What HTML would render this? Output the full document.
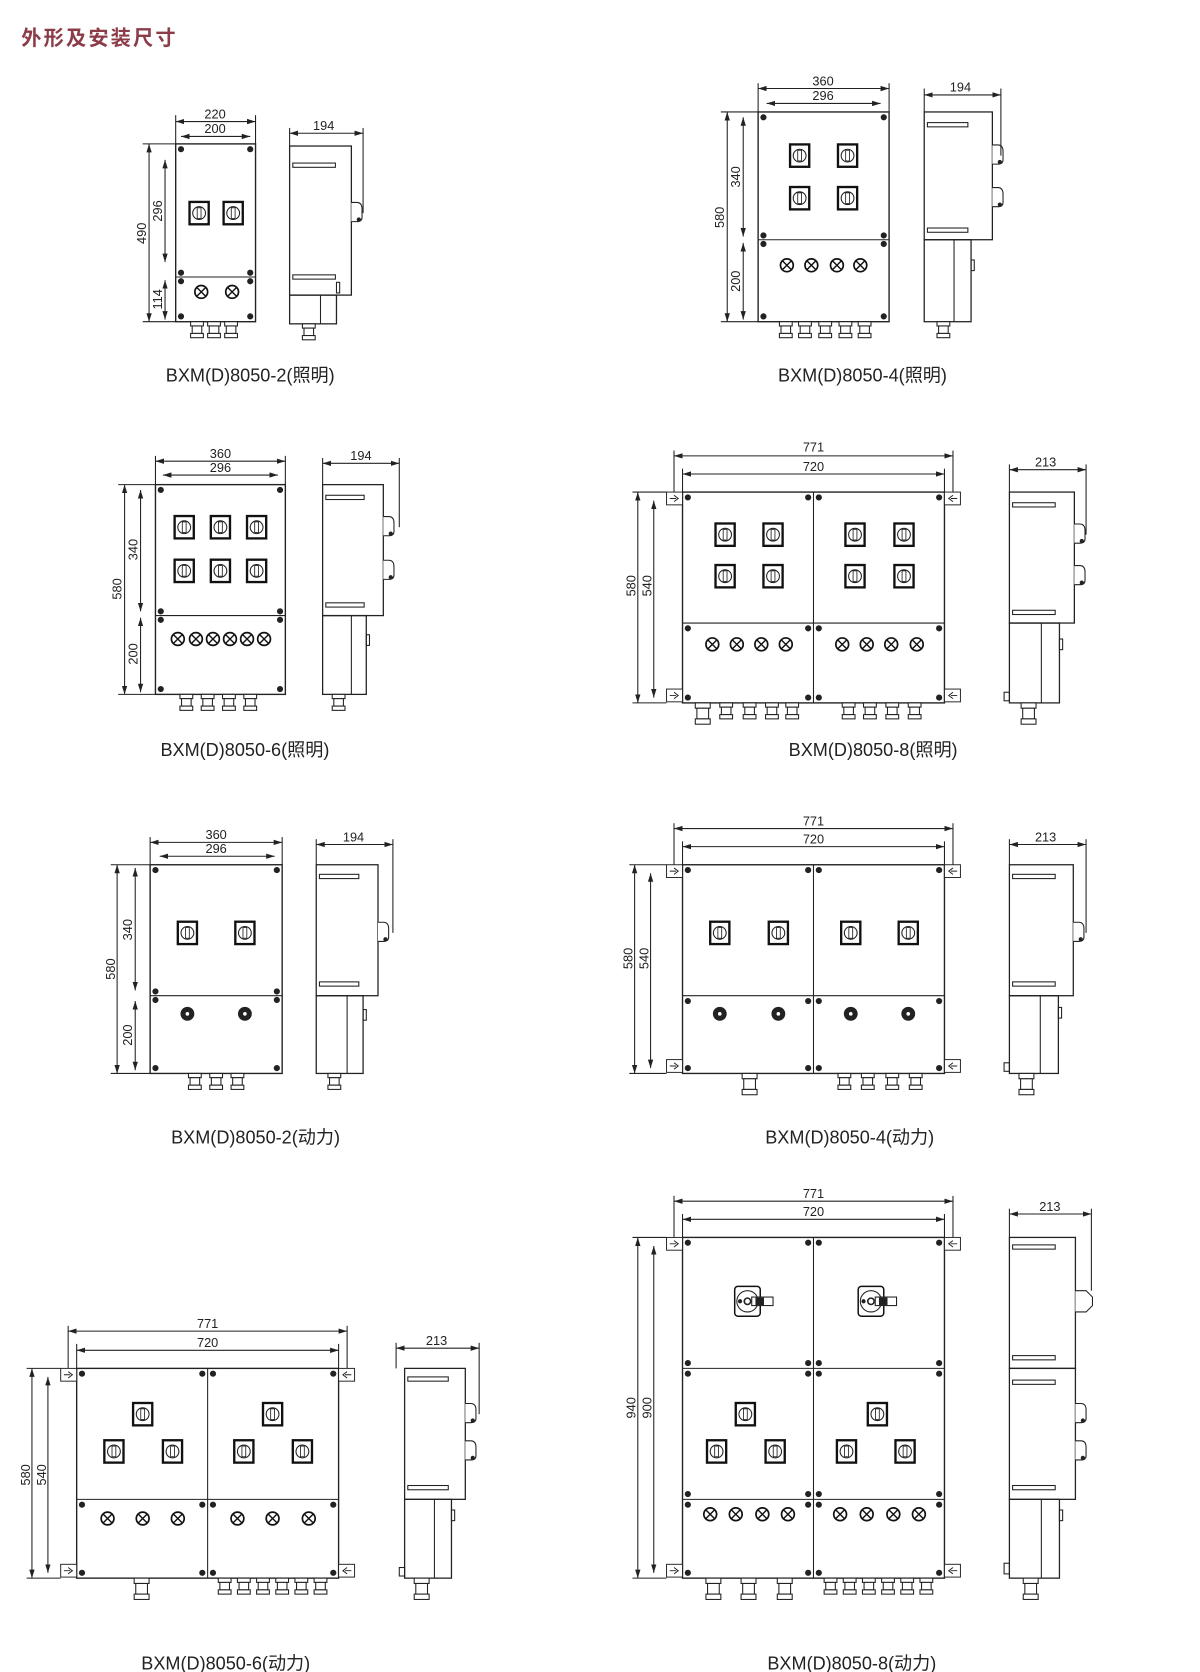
<!DOCTYPE html>
<html><head><meta charset="utf-8"><style>
html,body{margin:0;padding:0;background:#fff;}
svg{display:block;}
text{font-family:"Liberation Sans","Noto Sans CJK SC",sans-serif;fill:#222;}
</style></head><body>
<svg width="1200" height="1672" viewBox="0 0 1127 1570" xmlns="http://www.w3.org/2000/svg">
<defs>
<marker id="ar" markerWidth="8" markerHeight="6" refX="8" refY="3" orient="auto-start-reverse" markerUnits="userSpaceOnUse"><path d="M0,0.5 L8,3 L0,5.5 Z" fill="#222"/></marker>
<g id="sw"><rect x="-9" y="-10.5" width="18" height="21" fill="#fff" stroke="#111" stroke-width="2.2"/><circle r="6" fill="none" stroke="#222" stroke-width="1"/><rect x="-1.8" y="-5" width="3.6" height="10" fill="none" stroke="#222" stroke-width="0.8"/></g>
<g id="lp"><circle r="6" fill="#fff" stroke="#111" stroke-width="1.6"/><path d="M-4,-4 L4,4 M-4,4 L4,-4" stroke="#111" stroke-width="1.3"/></g>
<g id="pb"><circle r="6" fill="#222"/><circle r="2.2" fill="#fff"/></g>
<g id="gl"><rect x="-6" y="0" width="12" height="4" fill="#fff" stroke="#222" stroke-width="1"/><rect x="-4.5" y="4" width="9" height="7" fill="#fff" stroke="#222" stroke-width="1"/><rect x="-6" y="11" width="12" height="4" fill="#fff" stroke="#222" stroke-width="1"/></g>
<g id="glb"><rect x="-7" y="0" width="14" height="5" fill="#fff" stroke="#222" stroke-width="1"/><rect x="-5.5" y="5" width="11" height="10" fill="#fff" stroke="#222" stroke-width="1"/><rect x="-7" y="15" width="14" height="5" fill="#fff" stroke="#222" stroke-width="1"/></g>
<g id="bt"><circle r="2.4" fill="#222"/></g>
<g id="tabL"><rect x="0" y="-6" width="15" height="12" fill="#fff" stroke="#222" stroke-width="0.9"/><path d="M3,0 H9 M7,-3 L11,0 L7,3" stroke="#222" fill="none" stroke-width="0.9"/></g>
<g id="tabR"><rect x="0" y="-6" width="15" height="12" fill="#fff" stroke="#222" stroke-width="0.9"/><path d="M12,0 H6 M8,-3 L4,0 L8,3" stroke="#222" fill="none" stroke-width="0.9"/></g>
<g id="knob"><path d="M0,-10 H5 Q10,-10 10,-4 V4 Q10,8 5,8 H0" fill="#fff" stroke="#222" stroke-width="1"/><circle cx="7" cy="6" r="1.5" fill="#222"/></g>
<g id="rot"><rect x="-12" y="-14" width="24" height="28" rx="3" fill="#fff" stroke="#111" stroke-width="1.4"/><circle r="10" fill="none" stroke="#222"/><circle r="3" fill="none" stroke="#222" stroke-width="1.5"/><circle cx="-7" r="1.5" fill="#222"/><rect x="4" y="-4" width="20" height="8" fill="#fff" stroke="#222"/><rect x="8" y="-3" width="7" height="6" fill="#222"/></g>
</defs>
<g stroke="#222" fill="none" stroke-width="1">

<text x="20" y="42" font-size="19" font-weight="bold" stroke="none" style="fill:#8b3c48;letter-spacing:2px">外形及安装尺寸</text>

<!-- D1 -->
<rect x="165" y="135" width="75" height="167" stroke-width="1.3"/>
<line x1="165" y1="260" x2="240" y2="260"/>
<use href="#bt" x="170" y="140"/><use href="#bt" x="235" y="140"/><use href="#bt" x="170" y="256"/><use href="#bt" x="235" y="256"/><use href="#bt" x="170" y="264"/><use href="#bt" x="235" y="264"/><use href="#bt" x="170" y="297"/><use href="#bt" x="235" y="297"/>
<use href="#sw" x="187" y="200"/><use href="#sw" x="219" y="200"/>
<use href="#lp" x="189" y="274"/><use href="#lp" x="218" y="274"/>
<use href="#gl" x="185" y="302"/><use href="#gl" x="201" y="302"/><use href="#gl" x="217" y="302"/>
<line x1="165" y1="135" x2="165" y2="108"/><line x1="240" y1="135" x2="240" y2="108"/>
<line x1="165" y1="114" x2="240" y2="114" marker-start="url(#ar)" marker-end="url(#ar)"/>
<line x1="170" y1="128" x2="235" y2="128" marker-start="url(#ar)" marker-end="url(#ar)"/>
<line x1="165" y1="135" x2="134" y2="135"/><line x1="165" y1="302" x2="134" y2="302"/>
<line x1="140" y1="135" x2="140" y2="302" marker-start="url(#ar)" marker-end="url(#ar)"/>
<line x1="155" y1="150" x2="155" y2="246" marker-start="url(#ar)" marker-end="url(#ar)"/>
<line x1="155" y1="263" x2="155" y2="300" marker-start="url(#ar)" marker-end="url(#ar)"/>
<text x="202" y="111" font-size="12" text-anchor="middle" stroke="none">220</text>
<text x="202" y="125" font-size="12" text-anchor="middle" stroke="none">200</text>
<text transform="translate(137,219) rotate(-90)" font-size="12" text-anchor="middle" stroke="none">490</text>
<text transform="translate(152,198) rotate(-90)" font-size="12" text-anchor="middle" stroke="none">296</text>
<text transform="translate(152,281) rotate(-90)" font-size="12" text-anchor="middle" stroke="none">114</text>
<rect x="272" y="137" width="58" height="140" stroke-width="1.2"/>
<rect x="272" y="277" width="44" height="27" stroke-width="1.2"/>
<line x1="301" y1="277" x2="301" y2="304"/>
<rect x="275" y="153" width="40" height="4"/><rect x="275" y="258" width="40" height="4"/>
<use href="#knob" x="330" y="200"/>
<rect x="316" y="265" width="3" height="10"/>
<use href="#gl" x="290" y="304"/>
<line x1="272" y1="137" x2="272" y2="120"/><line x1="341" y1="200" x2="341" y2="120"/>
<line x1="272" y1="125" x2="341" y2="125" marker-start="url(#ar)" marker-end="url(#ar)"/>
<text x="304" y="122" font-size="12" text-anchor="middle" stroke="none">194</text>
<text x="235" y="358" font-size="17" text-anchor="middle" stroke="none">BXM(D)8050-2(照明)</text>

<!-- D2 -->
<rect x="712" y="105" width="123" height="197" stroke-width="1.3"/>
<line x1="712" y1="225" x2="835" y2="225"/>
<use href="#bt" x="717" y="110"/><use href="#bt" x="830" y="110"/><use href="#bt" x="717" y="221"/><use href="#bt" x="830" y="221"/><use href="#bt" x="717" y="229"/><use href="#bt" x="830" y="229"/><use href="#bt" x="717" y="297"/><use href="#bt" x="830" y="297"/>
<use href="#sw" x="751" y="146"/><use href="#sw" x="796" y="146"/><use href="#sw" x="751" y="186"/><use href="#sw" x="796" y="186"/>
<use href="#lp" x="739" y="249"/><use href="#lp" x="762" y="249"/><use href="#lp" x="786" y="249"/><use href="#lp" x="808" y="249"/>
<use href="#gl" x="738" y="302"/><use href="#gl" x="756" y="302"/><use href="#gl" x="775" y="302"/><use href="#gl" x="794" y="302"/><use href="#gl" x="812" y="302"/>
<line x1="712" y1="105" x2="712" y2="78"/><line x1="835" y1="105" x2="835" y2="78"/>
<line x1="712" y1="83" x2="835" y2="83" marker-start="url(#ar)" marker-end="url(#ar)"/>
<line x1="720" y1="97" x2="827" y2="97" marker-start="url(#ar)" marker-end="url(#ar)"/>
<line x1="712" y1="105" x2="677" y2="105"/><line x1="712" y1="302" x2="677" y2="302"/>
<line x1="683" y1="105" x2="683" y2="302" marker-start="url(#ar)" marker-end="url(#ar)"/>
<line x1="698" y1="110" x2="698" y2="222" marker-start="url(#ar)" marker-end="url(#ar)"/>
<line x1="698" y1="228" x2="698" y2="300" marker-start="url(#ar)" marker-end="url(#ar)"/>
<text x="773" y="80" font-size="12" text-anchor="middle" stroke="none">360</text>
<text x="773" y="94" font-size="12" text-anchor="middle" stroke="none">296</text>
<text transform="translate(680,204) rotate(-90)" font-size="12" text-anchor="middle" stroke="none">580</text>
<text transform="translate(695,166) rotate(-90)" font-size="12" text-anchor="middle" stroke="none">340</text>
<text transform="translate(695,264) rotate(-90)" font-size="12" text-anchor="middle" stroke="none">200</text>
<rect x="868" y="105" width="64" height="120" stroke-width="1.2"/>
<rect x="868" y="225" width="44" height="77" stroke-width="1.2"/>
<line x1="896" y1="225" x2="896" y2="302"/>
<rect x="871" y="115" width="38" height="4"/><rect x="871" y="214" width="38" height="4"/>
<use href="#knob" x="932" y="146"/><use href="#knob" x="932" y="186"/>
<rect x="912" y="244" width="3" height="10"/>
<use href="#gl" x="886" y="302"/>
<line x1="868" y1="105" x2="868" y2="83"/><line x1="940" y1="146" x2="940" y2="83"/>
<line x1="868" y1="89" x2="940" y2="89" marker-start="url(#ar)" marker-end="url(#ar)"/>
<text x="902" y="86" font-size="12" text-anchor="middle" stroke="none">194</text>
<text x="810" y="358" font-size="17" text-anchor="middle" stroke="none">BXM(D)8050-4(照明)</text>

<!-- D3 -->
<rect x="146" y="455" width="122" height="197" stroke-width="1.3"/>
<line x1="146" y1="578" x2="268" y2="578"/>
<use href="#bt" x="151" y="460"/><use href="#bt" x="263" y="460"/><use href="#bt" x="151" y="574"/><use href="#bt" x="263" y="574"/><use href="#bt" x="151" y="582"/><use href="#bt" x="263" y="582"/><use href="#bt" x="151" y="647"/><use href="#bt" x="263" y="647"/>
<use href="#sw" x="173" y="495"/><use href="#sw" x="207" y="495"/><use href="#sw" x="241" y="495"/>
<use href="#sw" x="173" y="536"/><use href="#sw" x="207" y="536"/><use href="#sw" x="241" y="536"/>
<use href="#lp" x="167" y="600"/><use href="#lp" x="184" y="600"/><use href="#lp" x="200" y="600"/><use href="#lp" x="216" y="600"/><use href="#lp" x="232" y="600"/><use href="#lp" x="248" y="600"/>
<use href="#gl" x="175" y="652"/><use href="#gl" x="195" y="652"/><use href="#gl" x="215" y="652"/><use href="#gl" x="235" y="652"/>
<line x1="146" y1="455" x2="146" y2="428"/><line x1="268" y1="455" x2="268" y2="428"/>
<line x1="146" y1="433" x2="268" y2="433" marker-start="url(#ar)" marker-end="url(#ar)"/>
<line x1="153" y1="446" x2="261" y2="446" marker-start="url(#ar)" marker-end="url(#ar)"/>
<line x1="146" y1="455" x2="111" y2="455"/><line x1="146" y1="652" x2="111" y2="652"/>
<line x1="117" y1="455" x2="117" y2="652" marker-start="url(#ar)" marker-end="url(#ar)"/>
<line x1="132" y1="460" x2="132" y2="574" marker-start="url(#ar)" marker-end="url(#ar)"/>
<line x1="132" y1="580" x2="132" y2="650" marker-start="url(#ar)" marker-end="url(#ar)"/>
<text x="207" y="430" font-size="12" text-anchor="middle" stroke="none">360</text>
<text x="207" y="443" font-size="12" text-anchor="middle" stroke="none">296</text>
<text transform="translate(114,553) rotate(-90)" font-size="12" text-anchor="middle" stroke="none">580</text>
<text transform="translate(129,516) rotate(-90)" font-size="12" text-anchor="middle" stroke="none">340</text>
<text transform="translate(129,614) rotate(-90)" font-size="12" text-anchor="middle" stroke="none">200</text>
<rect x="303" y="455" width="57" height="123" stroke-width="1.2"/>
<rect x="303" y="578" width="41" height="74" stroke-width="1.2"/>
<line x1="330" y1="578" x2="330" y2="652"/>
<rect x="306" y="465" width="36" height="4"/><rect x="306" y="566" width="36" height="4"/>
<use href="#knob" x="360" y="495"/><use href="#knob" x="360" y="536"/>
<rect x="344" y="596" width="3" height="10"/>
<use href="#gl" x="318" y="652"/>
<line x1="303" y1="455" x2="303" y2="430"/><line x1="375" y1="495" x2="375" y2="430"/>
<line x1="303" y1="435" x2="375" y2="435" marker-start="url(#ar)" marker-end="url(#ar)"/>
<text x="339" y="432" font-size="12" text-anchor="middle" stroke="none">194</text>
<text x="230" y="710" font-size="17" text-anchor="middle" stroke="none">BXM(D)8050-6(照明)</text>

<!-- D4 -->
<rect x="641" y="462" width="246" height="198" stroke-width="1.3"/>
<line x1="764" y1="462" x2="764" y2="660"/><line x1="641" y1="585" x2="887" y2="585"/>
<use href="#tabL" x="626" y="468"/><use href="#tabL" x="626" y="653"/><use href="#tabR" x="887" y="468"/><use href="#tabR" x="887" y="653"/>
<use href="#bt" x="646" y="467"/><use href="#bt" x="759" y="467"/><use href="#bt" x="769" y="467"/><use href="#bt" x="882" y="467"/>
<use href="#bt" x="646" y="590"/><use href="#bt" x="759" y="590"/><use href="#bt" x="769" y="590"/><use href="#bt" x="882" y="590"/>
<use href="#bt" x="646" y="655"/><use href="#bt" x="759" y="655"/><use href="#bt" x="769" y="655"/><use href="#bt" x="882" y="655"/>
<use href="#sw" x="681" y="502"/><use href="#sw" x="726" y="502"/><use href="#sw" x="681" y="541"/><use href="#sw" x="726" y="541"/>
<use href="#sw" x="803" y="502"/><use href="#sw" x="849" y="502"/><use href="#sw" x="803" y="541"/><use href="#sw" x="849" y="541"/>
<use href="#lp" x="669" y="605"/><use href="#lp" x="692" y="605"/><use href="#lp" x="715" y="605"/><use href="#lp" x="738" y="605"/>
<use href="#lp" x="791" y="605"/><use href="#lp" x="814" y="605"/><use href="#lp" x="837" y="605"/><use href="#lp" x="861" y="605"/>
<use href="#glb" x="660" y="660"/><use href="#gl" x="682" y="660"/><use href="#gl" x="704" y="660"/><use href="#gl" x="725" y="660"/><use href="#gl" x="744" y="660"/>
<use href="#gl" x="797" y="660"/><use href="#gl" x="817" y="660"/><use href="#gl" x="838" y="660"/><use href="#gl" x="859" y="660"/>
<line x1="633" y1="462" x2="633" y2="423"/><line x1="895" y1="462" x2="895" y2="423"/>
<line x1="641" y1="462" x2="641" y2="440"/><line x1="887" y1="462" x2="887" y2="440"/>
<line x1="633" y1="428" x2="895" y2="428" marker-start="url(#ar)" marker-end="url(#ar)"/>
<line x1="641" y1="445" x2="887" y2="445" marker-start="url(#ar)" marker-end="url(#ar)"/>
<line x1="626" y1="462" x2="594" y2="462"/><line x1="626" y1="660" x2="594" y2="660"/>
<line x1="599" y1="462" x2="599" y2="660" marker-start="url(#ar)" marker-end="url(#ar)"/>
<line x1="614" y1="470" x2="614" y2="655" marker-start="url(#ar)" marker-end="url(#ar)"/>
<text x="764" y="424" font-size="12" text-anchor="middle" stroke="none">771</text>
<text x="764" y="442" font-size="12" text-anchor="middle" stroke="none">720</text>
<text transform="translate(597,550) rotate(-90)" font-size="12" text-anchor="middle" stroke="none">580</text>
<text transform="translate(612,550) rotate(-90)" font-size="12" text-anchor="middle" stroke="none">540</text>
<rect x="948" y="462" width="61" height="123" stroke-width="1.2"/>
<rect x="948" y="585" width="47" height="75" stroke-width="1.2"/>
<line x1="978" y1="585" x2="978" y2="660"/>
<rect x="951" y="472" width="40" height="4"/><rect x="951" y="573" width="40" height="4"/>
<use href="#knob" x="1009" y="502"/><use href="#knob" x="1009" y="541"/>
<rect x="995" y="600" width="3" height="10"/>
<rect x="943" y="650" width="5" height="8"/>
<use href="#glb" x="966" y="660"/>
<line x1="948" y1="462" x2="948" y2="436"/><line x1="1020" y1="502" x2="1020" y2="436"/>
<line x1="948" y1="441" x2="1020" y2="441" marker-start="url(#ar)" marker-end="url(#ar)"/>
<text x="982" y="438" font-size="12" text-anchor="middle" stroke="none">213</text>
<text x="820" y="710" font-size="17" text-anchor="middle" stroke="none">BXM(D)8050-8(照明)</text>

<!-- D5 -->
<rect x="141" y="812" width="124" height="196" stroke-width="1.3"/>
<line x1="141" y1="935" x2="265" y2="935"/>
<use href="#bt" x="146" y="817"/><use href="#bt" x="260" y="817"/><use href="#bt" x="146" y="931"/><use href="#bt" x="260" y="931"/><use href="#bt" x="146" y="939"/><use href="#bt" x="260" y="939"/><use href="#bt" x="146" y="1003"/><use href="#bt" x="260" y="1003"/>
<use href="#sw" x="176" y="876"/><use href="#sw" x="230" y="876"/>
<use href="#pb" x="176" y="952"/><use href="#pb" x="230" y="952"/>
<use href="#gl" x="183" y="1008"/><use href="#gl" x="203" y="1008"/><use href="#gl" x="223" y="1008"/>
<line x1="141" y1="812" x2="141" y2="786"/><line x1="265" y1="812" x2="265" y2="786"/>
<line x1="141" y1="791" x2="265" y2="791" marker-start="url(#ar)" marker-end="url(#ar)"/>
<line x1="150" y1="804" x2="258" y2="804" marker-start="url(#ar)" marker-end="url(#ar)"/>
<line x1="141" y1="812" x2="104" y2="812"/><line x1="141" y1="1008" x2="104" y2="1008"/>
<line x1="110" y1="812" x2="110" y2="1008" marker-start="url(#ar)" marker-end="url(#ar)"/>
<line x1="127" y1="815" x2="127" y2="930" marker-start="url(#ar)" marker-end="url(#ar)"/>
<line x1="127" y1="940" x2="127" y2="1005" marker-start="url(#ar)" marker-end="url(#ar)"/>
<text x="203" y="788" font-size="12" text-anchor="middle" stroke="none">360</text>
<text x="203" y="801" font-size="12" text-anchor="middle" stroke="none">296</text>
<text transform="translate(108,910) rotate(-90)" font-size="12" text-anchor="middle" stroke="none">580</text>
<text transform="translate(124,873) rotate(-90)" font-size="12" text-anchor="middle" stroke="none">340</text>
<text transform="translate(124,972) rotate(-90)" font-size="12" text-anchor="middle" stroke="none">200</text>
<rect x="297" y="812" width="58" height="123" stroke-width="1.2"/>
<rect x="297" y="935" width="44" height="73" stroke-width="1.2"/>
<line x1="326" y1="935" x2="326" y2="1008"/>
<rect x="300" y="821" width="37" height="4"/><rect x="300" y="922" width="37" height="4"/>
<use href="#knob" x="355" y="876"/>
<rect x="341" y="948" width="3" height="10"/>
<use href="#gl" x="314" y="1008"/>
<line x1="297" y1="812" x2="297" y2="788"/><line x1="369" y1="876" x2="369" y2="788"/>
<line x1="297" y1="793" x2="369" y2="793" marker-start="url(#ar)" marker-end="url(#ar)"/>
<text x="332" y="790" font-size="12" text-anchor="middle" stroke="none">194</text>
<text x="240" y="1074" font-size="17" text-anchor="middle" stroke="none">BXM(D)8050-2(动力)</text>

<!-- D6 -->
<rect x="641" y="812" width="246" height="196" stroke-width="1.3"/>
<line x1="764" y1="812" x2="764" y2="1008"/><line x1="641" y1="935" x2="887" y2="935"/>
<use href="#tabL" x="626" y="818"/><use href="#tabL" x="626" y="1001"/><use href="#tabR" x="887" y="818"/><use href="#tabR" x="887" y="1001"/>
<use href="#bt" x="646" y="817"/><use href="#bt" x="759" y="817"/><use href="#bt" x="769" y="817"/><use href="#bt" x="882" y="817"/>
<use href="#bt" x="646" y="940"/><use href="#bt" x="759" y="940"/><use href="#bt" x="769" y="940"/><use href="#bt" x="882" y="940"/>
<use href="#bt" x="646" y="1003"/><use href="#bt" x="759" y="1003"/><use href="#bt" x="769" y="1003"/><use href="#bt" x="882" y="1003"/>
<use href="#sw" x="676" y="876"/><use href="#sw" x="731" y="876"/><use href="#sw" x="799" y="876"/><use href="#sw" x="853" y="876"/>
<use href="#pb" x="676" y="952"/><use href="#pb" x="731" y="952"/><use href="#pb" x="799" y="952"/><use href="#pb" x="853" y="952"/>
<use href="#glb" x="704" y="1008"/>
<use href="#gl" x="793" y="1008"/><use href="#gl" x="815" y="1008"/><use href="#gl" x="838" y="1008"/><use href="#gl" x="860" y="1008"/>
<line x1="633" y1="812" x2="633" y2="773"/><line x1="895" y1="812" x2="895" y2="773"/>
<line x1="641" y1="812" x2="641" y2="790"/><line x1="887" y1="812" x2="887" y2="790"/>
<line x1="633" y1="778" x2="895" y2="778" marker-start="url(#ar)" marker-end="url(#ar)"/>
<line x1="641" y1="795" x2="887" y2="795" marker-start="url(#ar)" marker-end="url(#ar)"/>
<line x1="626" y1="812" x2="591" y2="812"/><line x1="626" y1="1008" x2="591" y2="1008"/>
<line x1="596" y1="812" x2="596" y2="1008" marker-start="url(#ar)" marker-end="url(#ar)"/>
<line x1="611" y1="820" x2="611" y2="1003" marker-start="url(#ar)" marker-end="url(#ar)"/>
<text x="764" y="775" font-size="12" text-anchor="middle" stroke="none">771</text>
<text x="764" y="792" font-size="12" text-anchor="middle" stroke="none">720</text>
<text transform="translate(594,900) rotate(-90)" font-size="12" text-anchor="middle" stroke="none">580</text>
<text transform="translate(609,900) rotate(-90)" font-size="12" text-anchor="middle" stroke="none">540</text>
<rect x="948" y="812" width="60" height="123" stroke-width="1.2"/>
<rect x="948" y="935" width="46" height="73" stroke-width="1.2"/>
<line x1="977" y1="935" x2="977" y2="1008"/>
<rect x="951" y="821" width="40" height="4"/><rect x="951" y="922" width="40" height="4"/>
<use href="#knob" x="1008" y="876"/>
<rect x="994" y="946" width="3" height="10"/>
<rect x="943" y="998" width="5" height="8"/>
<use href="#glb" x="964" y="1008"/>
<line x1="948" y1="812" x2="948" y2="788"/><line x1="1020" y1="876" x2="1020" y2="788"/>
<line x1="948" y1="793" x2="1020" y2="793" marker-start="url(#ar)" marker-end="url(#ar)"/>
<text x="982" y="790" font-size="12" text-anchor="middle" stroke="none">213</text>
<text x="798" y="1074" font-size="17" text-anchor="middle" stroke="none">BXM(D)8050-4(动力)</text>

<!-- D7 -->
<rect x="72" y="1285" width="246" height="197" stroke-width="1.3"/>
<line x1="195" y1="1285" x2="195" y2="1482"/><line x1="72" y1="1408" x2="318" y2="1408"/>
<use href="#tabL" x="57" y="1291"/><use href="#tabL" x="57" y="1475"/><use href="#tabR" x="318" y="1291"/><use href="#tabR" x="318" y="1475"/>
<use href="#bt" x="77" y="1290"/><use href="#bt" x="190" y="1290"/><use href="#bt" x="200" y="1290"/><use href="#bt" x="313" y="1290"/>
<use href="#bt" x="77" y="1413"/><use href="#bt" x="190" y="1413"/><use href="#bt" x="200" y="1413"/><use href="#bt" x="313" y="1413"/>
<use href="#bt" x="77" y="1477"/><use href="#bt" x="190" y="1477"/><use href="#bt" x="200" y="1477"/><use href="#bt" x="313" y="1477"/>
<use href="#sw" x="134" y="1328"/><use href="#sw" x="107" y="1363"/><use href="#sw" x="162" y="1363"/>
<use href="#sw" x="256" y="1328"/><use href="#sw" x="229" y="1363"/><use href="#sw" x="284" y="1363"/>
<use href="#lp" x="101" y="1426"/><use href="#lp" x="134" y="1426"/><use href="#lp" x="167" y="1426"/>
<use href="#lp" x="223" y="1426"/><use href="#lp" x="256" y="1426"/><use href="#lp" x="290" y="1426"/>
<use href="#glb" x="133" y="1482"/>
<use href="#gl" x="211" y="1482"/><use href="#gl" x="229" y="1482"/><use href="#gl" x="247" y="1482"/><use href="#gl" x="265" y="1482"/><use href="#gl" x="283" y="1482"/><use href="#gl" x="301" y="1482"/>
<line x1="64" y1="1285" x2="64" y2="1245"/><line x1="326" y1="1285" x2="326" y2="1245"/>
<line x1="72" y1="1285" x2="72" y2="1262"/><line x1="318" y1="1285" x2="318" y2="1262"/>
<line x1="64" y1="1250" x2="326" y2="1250" marker-start="url(#ar)" marker-end="url(#ar)"/>
<line x1="72" y1="1268" x2="318" y2="1268" marker-start="url(#ar)" marker-end="url(#ar)"/>
<line x1="57" y1="1285" x2="25" y2="1285"/><line x1="57" y1="1482" x2="25" y2="1482"/>
<line x1="30" y1="1285" x2="30" y2="1482" marker-start="url(#ar)" marker-end="url(#ar)"/>
<line x1="45" y1="1293" x2="45" y2="1477" marker-start="url(#ar)" marker-end="url(#ar)"/>
<text x="195" y="1247" font-size="12" text-anchor="middle" stroke="none">771</text>
<text x="195" y="1265" font-size="12" text-anchor="middle" stroke="none">720</text>
<text transform="translate(28,1385) rotate(-90)" font-size="12" text-anchor="middle" stroke="none">580</text>
<text transform="translate(43,1385) rotate(-90)" font-size="12" text-anchor="middle" stroke="none">540</text>
<rect x="380" y="1285" width="57" height="123" stroke-width="1.2"/>
<rect x="380" y="1408" width="44" height="74" stroke-width="1.2"/>
<line x1="408" y1="1408" x2="408" y2="1482"/>
<rect x="383" y="1293" width="38" height="4"/><rect x="383" y="1395" width="38" height="4"/>
<use href="#knob" x="437" y="1328"/><use href="#knob" x="437" y="1363"/>
<rect x="424" y="1418" width="3" height="10"/>
<rect x="375" y="1472" width="5" height="8"/>
<use href="#glb" x="396" y="1482"/>
<line x1="372" y1="1285" x2="372" y2="1261"/><line x1="450" y1="1328" x2="450" y2="1261"/>
<line x1="372" y1="1266" x2="450" y2="1266" marker-start="url(#ar)" marker-end="url(#ar)"/>
<text x="410" y="1263" font-size="12" text-anchor="middle" stroke="none">213</text>
<text x="212" y="1568" font-size="17" text-anchor="middle" stroke="none">BXM(D)8050-6(动力)</text>

<!-- D8 -->
<rect x="641" y="1162" width="246" height="320" stroke-width="1.3"/>
<line x1="764" y1="1162" x2="764" y2="1482"/><line x1="641" y1="1285" x2="887" y2="1285"/><line x1="641" y1="1408" x2="887" y2="1408"/>
<use href="#tabL" x="626" y="1168"/><use href="#tabL" x="626" y="1475"/><use href="#tabR" x="887" y="1168"/><use href="#tabR" x="887" y="1475"/>
<use href="#bt" x="646" y="1167"/><use href="#bt" x="759" y="1167"/><use href="#bt" x="769" y="1167"/><use href="#bt" x="882" y="1167"/>
<use href="#bt" x="646" y="1280"/><use href="#bt" x="759" y="1280"/><use href="#bt" x="769" y="1280"/><use href="#bt" x="882" y="1280"/>
<use href="#bt" x="646" y="1290"/><use href="#bt" x="759" y="1290"/><use href="#bt" x="769" y="1290"/><use href="#bt" x="882" y="1290"/>
<use href="#bt" x="646" y="1403"/><use href="#bt" x="759" y="1403"/><use href="#bt" x="769" y="1403"/><use href="#bt" x="882" y="1403"/>
<use href="#bt" x="646" y="1413"/><use href="#bt" x="759" y="1413"/><use href="#bt" x="769" y="1413"/><use href="#bt" x="882" y="1413"/>
<use href="#bt" x="646" y="1477"/><use href="#bt" x="759" y="1477"/><use href="#bt" x="769" y="1477"/><use href="#bt" x="882" y="1477"/>
<use href="#rot" x="702" y="1222"/><use href="#rot" x="818" y="1222"/>
<use href="#sw" x="700" y="1328"/><use href="#sw" x="673" y="1363"/><use href="#sw" x="728" y="1363"/>
<use href="#sw" x="824" y="1328"/><use href="#sw" x="795" y="1363"/><use href="#sw" x="850" y="1363"/>
<use href="#lp" x="667" y="1422"/><use href="#lp" x="691" y="1422"/><use href="#lp" x="716" y="1422"/><use href="#lp" x="740" y="1422"/>
<use href="#lp" x="789" y="1422"/><use href="#lp" x="814" y="1422"/><use href="#lp" x="839" y="1422"/><use href="#lp" x="863" y="1422"/>
<use href="#glb" x="670" y="1482"/><use href="#glb" x="703" y="1482"/><use href="#glb" x="737" y="1482"/>
<use href="#gl" x="780" y="1482"/><use href="#gl" x="798" y="1482"/><use href="#gl" x="816" y="1482"/><use href="#gl" x="834" y="1482"/><use href="#gl" x="852" y="1482"/><use href="#gl" x="870" y="1482"/>
<line x1="633" y1="1162" x2="633" y2="1123"/><line x1="895" y1="1162" x2="895" y2="1123"/>
<line x1="641" y1="1162" x2="641" y2="1140"/><line x1="887" y1="1162" x2="887" y2="1140"/>
<line x1="633" y1="1128" x2="895" y2="1128" marker-start="url(#ar)" marker-end="url(#ar)"/>
<line x1="641" y1="1145" x2="887" y2="1145" marker-start="url(#ar)" marker-end="url(#ar)"/>
<line x1="626" y1="1162" x2="594" y2="1162"/><line x1="626" y1="1482" x2="594" y2="1482"/>
<line x1="599" y1="1162" x2="599" y2="1482" marker-start="url(#ar)" marker-end="url(#ar)"/>
<line x1="614" y1="1170" x2="614" y2="1477" marker-start="url(#ar)" marker-end="url(#ar)"/>
<text x="764" y="1125" font-size="12" text-anchor="middle" stroke="none">771</text>
<text x="764" y="1142" font-size="12" text-anchor="middle" stroke="none">720</text>
<text transform="translate(597,1322) rotate(-90)" font-size="12" text-anchor="middle" stroke="none">940</text>
<text transform="translate(612,1322) rotate(-90)" font-size="12" text-anchor="middle" stroke="none">900</text>
<rect x="948" y="1162" width="62" height="123" stroke-width="1.2"/>
<rect x="948" y="1285" width="62" height="123" stroke-width="1.2"/>
<rect x="948" y="1408" width="47" height="74" stroke-width="1.2"/>
<line x1="978" y1="1408" x2="978" y2="1482"/>
<rect x="951" y="1169" width="40" height="4"/><rect x="951" y="1273" width="40" height="4"/><rect x="951" y="1296" width="40" height="4"/><rect x="951" y="1395" width="40" height="4"/>
<path d="M1010,1212 H1020 L1026,1218 V1226 L1020,1232 H1010" fill="#fff"/>
<use href="#knob" x="1010" y="1328"/><use href="#knob" x="1010" y="1363"/>
<rect x="995" y="1418" width="3" height="10"/>
<rect x="943" y="1468" width="5" height="10"/>
<use href="#glb" x="968" y="1482"/>
<line x1="948" y1="1162" x2="948" y2="1135"/><line x1="1025" y1="1212" x2="1025" y2="1135"/>
<line x1="948" y1="1140" x2="1025" y2="1140" marker-start="url(#ar)" marker-end="url(#ar)"/>
<text x="986" y="1137" font-size="12" text-anchor="middle" stroke="none">213</text>
<text x="800" y="1568" font-size="17" text-anchor="middle" stroke="none">BXM(D)8050-8(动力)</text>
</g>
</svg>
</body></html>
